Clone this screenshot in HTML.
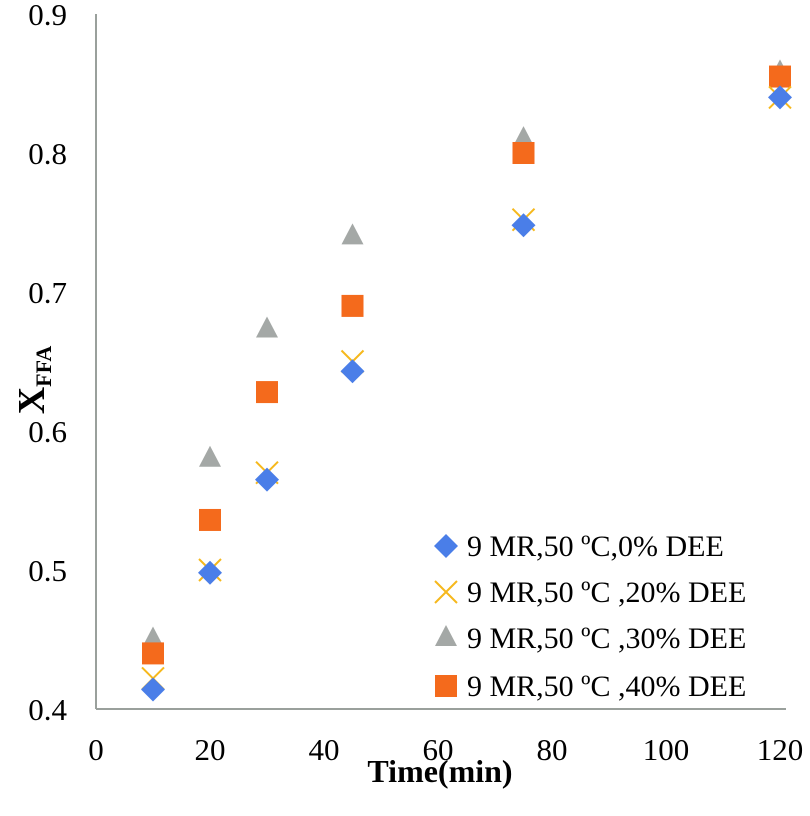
<!DOCTYPE html>
<html><head><meta charset="utf-8"><style>body{margin:0;background:#fff}svg{display:block;font-family:"Liberation Serif",serif}</style></head>
<body>
<svg id="chart" width="810" height="816" xmlns="http://www.w3.org/2000/svg">
<g id="axes"></g><g id="marks"></g><g id="legend"></g>
<text x="440" y="782" font-size="32" font-weight="bold" text-anchor="middle">Time(min)</text>
<text transform="translate(44,380) rotate(-90)" font-size="38" font-weight="bold" text-anchor="middle">X<tspan font-size="22" dy="7">FFA</tspan></text>
</svg>
<script>
const times=[10,20,30,45,75,120];
const s0=[0.414,0.498,0.565,0.643,0.748,0.840];
const s20=[0.422,0.500,0.570,0.650,0.752,0.840];
const s30=[0.450,0.580,0.673,0.740,0.810,0.858];
const s40=[0.440,0.536,0.628,0.690,0.800,0.855];
const xTicks=[0,20,40,60,80,100,120];
const yTicks=[0.4,0.5,0.6,0.7,0.8,0.9];
const legendLabels=["9 MR,50 ºC,0% DEE","9 MR,50 ºC ,20% DEE","9 MR,50 ºC ,30% DEE","9 MR,50 ºC ,40% DEE"];
const NS="http://www.w3.org/2000/svg";
const X=v=>96+v/120*684, Y=v=>709-(v-0.4)/0.5*695;
function mk(t,a,p){const e=document.createElementNS(NS,t);for(const k in a)e.setAttribute(k,a[k]);p.appendChild(e);return e;}
const ax=document.getElementById('axes'),mg=document.getElementById('marks'),lg=document.getElementById('legend');
const xl=mk('line',{x1:96,y1:709,x2:786,y2:709,stroke:'#9aa09c','stroke-width':2},ax);


const yl=mk('line',{x1:96,y1:14,x2:96,y2:709,stroke:'#9aa09c','stroke-width':2},ax);


xTicks.forEach(v=>{const t=mk('text',{x:X(v),y:760,'font-size':31,'text-anchor':'middle'},ax);t.textContent=v;

});
yTicks.forEach(v=>{const t=mk('text',{x:67,y:Y(v)+11,'font-size':31,'text-anchor':'end'},ax);t.textContent=v.toFixed(1);

});
function marker(kind,x,y,p){let e;
if(kind==0)e=mk('polygon',{points:`${x},${y-12} ${x+12},${y} ${x},${y+12} ${x-12},${y}`,fill:'#4a7ee8'},p);
else if(kind==1){e=mk('path',{d:`M${x-11},${y-11}L${x+11},${y+11}M${x-11},${y+11}L${x+11},${y-11}`,stroke:'#f6b81c','stroke-width':2,fill:'none'},p);}
else if(kind==2)e=mk('polygon',{points:`${x},${y-13} ${x+11},${y+8} ${x-11},${y+8}`,fill:'#a4a8a6'},p);
else e=mk('rect',{x:x-11,y:y-11,width:22,height:22,fill:'#f46a1c'},p);
return e;}
const series=[s0,s20,s30,s40];
[2,3,1,0].forEach(k=>{series[k].forEach((v,i)=>{const e=marker(k,X(times[i]),Y(v),mg);

});});
const ly=[546,592,638,686];
legendLabels.forEach((s,i)=>{const m=marker(i,446,ly[i],lg);


const t=mk('text',{x:467,y:ly[i]+10,'font-size':30},lg);t.textContent=s;

});
</script>
</body></html>
